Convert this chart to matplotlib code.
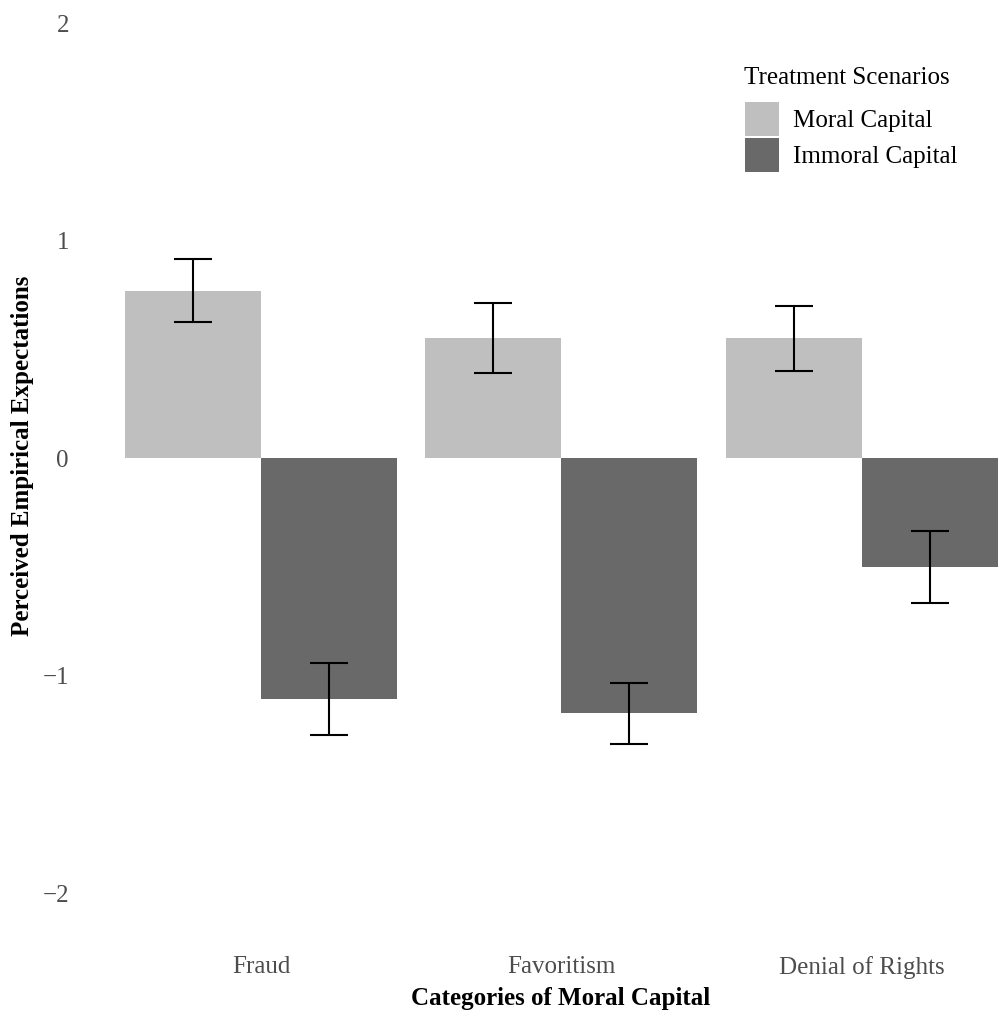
import numpy as np
import matplotlib
matplotlib.use("Agg")
import matplotlib.pyplot as plt
from matplotlib.patches import Patch

# Mean perceived empirical expectations with standard errors
categories = ["Fraud", "Favoritism", "Denial of Rights"]
moral_means = [0.77, 0.553, 0.55]
moral_se = [0.146, 0.161, 0.15]
immoral_means = [-1.108, -1.173, -0.50]
immoral_se = [0.166, 0.14, 0.165]

yticks = [-2, -1, 0, 1, 2]
tick_labels = ["\u22122", "\u22121", "0", "1", "2"]

moral_color = "#bfbfbf"
immoral_color = "#696969"

plt.rcParams["font.family"] = ["Liberation Serif", "DejaVu Serif"]
plt.rcParams["font.size"] = 18

fig = plt.figure(figsize=(9.99, 10.17), dpi=100)
W, H = 999, 1017
ax = fig.add_axes([80 / W, 1 - 930 / H, 919 / W, 930 / H])

x = np.arange(len(categories))
width = 0.4526

ax.bar(x - width / 2, moral_means, width, color=moral_color, label="Moral Capital")
ax.bar(x + width / 2, immoral_means, width, color=immoral_color, label="Immoral Capital")

err_style = dict(fmt="none", ecolor="black", elinewidth=1.5, capsize=13.5, capthick=1.5)
ax.errorbar(x - width / 2, moral_means, yerr=moral_se, **err_style)
ax.errorbar(x + width / 2, immoral_means, yerr=immoral_se, **err_style)

ax.set_xlim(-0.602, 2.456)
ax.set_ylim(-2.170, 2.106)

ax.set_xticks(x)
ax.set_xticklabels(categories)
ax.set_yticks(yticks)
ax.set_yticklabels(tick_labels)
ax.tick_params(axis="both", length=0, colors="#4d4d4d", labelsize=18)
ax.tick_params(axis="x", pad=19)
ax.tick_params(axis="y", pad=8)

for s in ax.spines.values():
    s.set_visible(False)

ax.set_xlabel("Categories of Moral Capital", fontweight="bold", fontsize=18)
ax.xaxis.set_label_coords((561 - 80) / 919, -(998 - 930) / 930)
ax.xaxis.label.set_va("center")

ax.set_ylabel("Perceived Empirical Expectations", fontweight="bold", fontsize=18)
ax.yaxis.set_label_coords((23 - 80) / 919, 1 - 456 / 930)
ax.yaxis.label.set_va("center")

# legend: title as separate text so the gap above the keys can be set
fig.text(744 / W, 1 - 78 / H, "Treatment Scenarios", ha="left", va="center", fontsize=18)
handles = [Patch(facecolor=moral_color, label="Moral Capital"),
           Patch(facecolor=immoral_color, label="Immoral Capital")]
leg = ax.legend(handles=handles, loc="upper left",
                bbox_to_anchor=(745 / W, 1 - 102 / H), bbox_transform=fig.transFigure,
                frameon=False, fontsize=18,
                handlelength=1.36, handleheight=1.715, handletextpad=0.55,
                labelspacing=0.07, borderpad=0.0, borderaxespad=0)

fig.savefig("out.png", dpi=100)
